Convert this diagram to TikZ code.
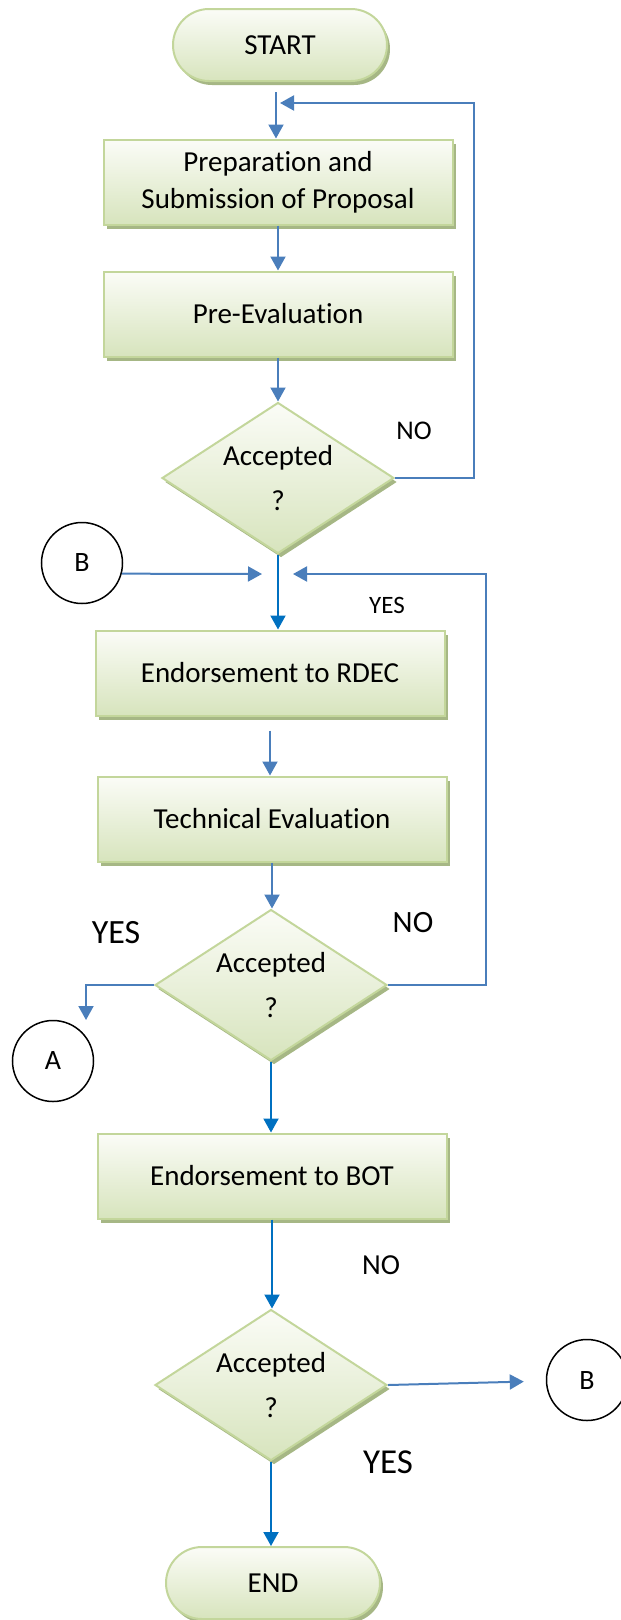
\documentclass[tikz,border=0pt]{standalone}
\usepackage{fontspec}
\setmainfont{Carlito}[Ligatures=NoCommon]
\usetikzlibrary{shapes.geometric,shapes.misc,shadows,arrows.meta}
\definecolor{boxline}{HTML}{C3D69B}
\definecolor{boxtop}{HTML}{FBFCF7}
\definecolor{boxbot}{HTML}{D7E4BD}
\definecolor{boxshade}{HTML}{A6B785}
\definecolor{arrowblue}{HTML}{4A7EBB}
\definecolor{darkblue}{HTML}{0070C0}

\begin{document}
\begin{tikzpicture}[x=1pt,y=-1pt]
    \tikzstyle{base}=[draw=boxline,line width=2pt,top color=boxtop,bottom color=boxbot,
      drop shadow={shadow xshift=3pt,shadow yshift=-4pt,fill=boxshade,opacity=1},
      font=\fontsize{29}{37}\selectfont,align=center,inner sep=0pt]
    \tikzstyle{term}=[base,rounded rectangle,minimum width=214pt,minimum height=72pt]
    \tikzstyle{proc}=[base,rectangle,minimum width=349pt,minimum height=85pt]
    \tikzstyle{decide}=[base,diamond,aspect=1.55,minimum width=232pt,minimum height=151pt]
    \tikzstyle{conn}=[circle,draw,line width=1.5pt,minimum size=81pt,inner sep=0pt,
      font=\fontsize{28}{28}\selectfont]
    \tikzstyle{flow}=[draw=arrowblue,line width=2pt,-{Triangle[length=14pt,width=15pt]}]
    \tikzstyle{flowdark}=[flow,draw=darkblue]
    \tikzstyle{lbl}=[inner sep=0pt]
    \useasboundingbox (0,0) rectangle (621,1620);

    \node[term] (start) at (280,45) {START};
    \node[proc] (prep) at (278,182) {Preparation and\\Submission of Proposal};
    \node[proc] (preeval) at (278,314) {Pre-Evaluation};
    \node[decide] (dec1) at (278,478) {Accepted\\[8pt]?};
    \node[proc] (rdec) at (270,673) {Endorsement to RDEC};
    \node[proc] (tech) at (272,819) {Technical Evaluation};
    \node[decide] (dec2) at (271,985) {Accepted\\[8pt]?};
    \node[proc] (bot) at (272,1176) {Endorsement to BOT};
    \node[decide] (dec3) at (271,1385) {Accepted\\[8pt]?};
    \node[term] (finish) at (273,1583) {END};

    \node[conn] (b1) at (82,563) {B};
    \node[conn] (a1) at (53,1061) {A};
    \node[conn] (b2) at (587,1380) {B};

    \coordinate (join1) at (280,103);
    \coordinate (mergeL) at (262,574);
    \coordinate (mergeR) at (293,574);
    \coordinate (toA) at (86,1020);

    \draw[flow,shorten <=10pt] ([xshift=-4pt]start.south) -- ([xshift=-4pt]start.south |- prep.north);
    \foreach \a/\b/\s in {prep/preeval/0,preeval/dec1/0,rdec/tech/14,tech/dec2/0}
      {\draw[flow,shorten <={\s pt}] (\a.south) -- (\a.south |- \b.north);}
    \foreach \a/\b in {dec1/rdec,dec2/bot,bot/dec3,dec3/finish}
      {\draw[flowdark] (\a.south) -- (\a.south |- \b.north);}

    \draw[flow] (dec1.east) -- ++(79,0) |- (join1);
    \draw[flow] (b1.-15) -- (mergeL);
    \draw[flow] (dec2.east) -- ++(98,0) |- (mergeR);
    \draw[flow] (dec2.west) -| (toA);
    \draw[flow,shorten >=22pt] (dec3.east) -- (b2);

    \node[lbl,font=\fontsize{27}{27}\selectfont] (no1) at (414,431) {NO};
    \node[lbl,font=\fontsize{25}{25}\selectfont] (yes1) at (387,605) {YES};
    \node[lbl,font=\fontsize{34}{34}\selectfont] (yes2) at (116,933) {YES};
    \node[lbl,font=\fontsize{31}{31}\selectfont] (no2) at (413,923) {NO};
    \node[lbl,font=\fontsize{29}{29}\selectfont] (no3) at (381,1265) {NO};
    \node[lbl,font=\fontsize{35}{35}\selectfont] (yes3) at (388,1462) {YES};
\end{tikzpicture}
\end{document}
